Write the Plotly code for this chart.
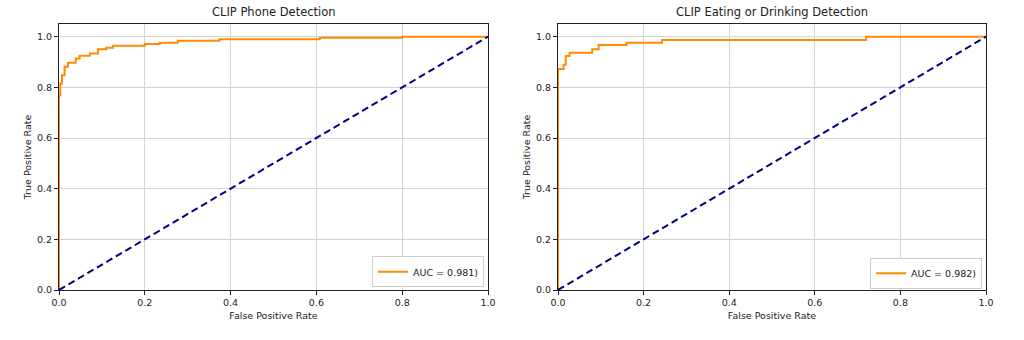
import plotly.graph_objects as go

# ---- data ----
phone_fpr = [0, 0, 0.003, 0.007, 0.013, 0.021, 0.039, 0.048, 0.072, 0.091, 0.110, 0.126,
             0.200, 0.235, 0.277, 0.374, 0.608, 0.800, 1.0]
phone_tpr = [0, 0.768, 0.815, 0.848, 0.881, 0.897, 0.914, 0.925, 0.934, 0.950, 0.956, 0.964,
             0.971, 0.976, 0.984, 0.990, 0.996, 1.0, 1.0]
phone_auc = 0.981

eat_fpr = [0, 0, 0.013, 0.018, 0.027, 0.080, 0.095, 0.160, 0.243, 0.720, 1.0]
eat_tpr = [0, 0.872, 0.889, 0.924, 0.937, 0.950, 0.967, 0.976, 0.987, 1.0, 1.0]
eat_auc = 0.982

diag = [0, 1]
titles = ["CLIP Phone Detection", "CLIP Eating or Drinking Detection"]
tick_vals = [0, 0.2, 0.4, 0.6, 0.8, 1.0]
tick_text = ["0.0", "0.2", "0.4", "0.6", "0.8", "1.0"]

FONT = "DejaVu Sans"
ORANGE = "#ff8c00"
NAVY = "#000080"

fig = go.Figure()

fig.add_trace(go.Scatter(x=phone_fpr, y=phone_tpr, mode="lines", line_shape="hv",
                         line=dict(color=ORANGE, width=2),
                         name=f"AUC = {phone_auc:.3f})", xaxis="x", yaxis="y",
                         legend="legend"))
fig.add_trace(go.Scatter(x=diag, y=diag, mode="lines",
                         line=dict(color=NAVY, width=2, dash="7px,4px"),
                         showlegend=False, xaxis="x", yaxis="y"))
fig.add_trace(go.Scatter(x=eat_fpr, y=eat_tpr, mode="lines", line_shape="hv",
                         line=dict(color=ORANGE, width=2),
                         name=f"AUC = {eat_auc:.3f})", xaxis="x2", yaxis="y2",
                         legend="legend2"))
fig.add_trace(go.Scatter(x=diag, y=diag, mode="lines",
                         line=dict(color=NAVY, width=2, dash="7px,4px"),
                         showlegend=False, xaxis="x2", yaxis="y2"))

ML, MR, MT, MB = 59, 38, 24, 50
W, H = 1024, 340
pw = W - ML - MR
left_dom = [0, (488 - ML) / pw]
right_dom = [(558 - ML) / pw, 1]

axis_common = dict(showline=True, linecolor="#222", linewidth=1, mirror=True,
                   ticks="outside", ticklen=4, tickcolor="#222",
                   showgrid=True, gridcolor="#d4d4d4", gridwidth=1,
                   zeroline=False, tickfont=dict(family=FONT, size=9.5, color="#222"),
                   tickvals=tick_vals, ticktext=tick_text)

fig.update_layout(
    width=W, height=H,
    margin=dict(l=ML, r=MR, t=MT, b=MB),
    paper_bgcolor="white", plot_bgcolor="white",
    font=dict(family=FONT, color="#222"),
    xaxis=dict(domain=left_dom, range=[0, 1], anchor="y",
               title=dict(text="False Positive Rate", font=dict(size=9.5), standoff=4),
               **axis_common),
    yaxis=dict(domain=[0, 1], range=[0, 1.05], anchor="x",
               title=dict(text="True Positive Rate", font=dict(size=9.5), standoff=3),
               **axis_common),
    xaxis2=dict(domain=right_dom, range=[0, 1], anchor="y2",
                title=dict(text="False Positive Rate", font=dict(size=9.5), standoff=4),
                **axis_common),
    yaxis2=dict(domain=[0, 1], range=[0, 1.05], anchor="x2",
                title=dict(text="True Positive Rate", font=dict(size=9.5), standoff=3),
                **axis_common),
    legend=dict(x=(484 - ML) / pw, y=0.01, xanchor="right", yanchor="bottom",
                bgcolor="white", bordercolor="#cccccc", borderwidth=1,
                font=dict(family=FONT, size=9.5, color="#222"), itemwidth=30,
                tracegroupgap=0),
    legend2=dict(x=(982 - ML) / pw, y=0.005, xanchor="right", yanchor="bottom",
                 bgcolor="white", bordercolor="#cccccc", borderwidth=1,
                 font=dict(family=FONT, size=9.5, color="#222"), itemwidth=30,
                 tracegroupgap=0),
    showlegend=True,
)

for xref, yref, t in [("x domain", "y domain", titles[0]), ("x2 domain", "y2 domain", titles[1])]:
    fig.add_annotation(text=t, xref=xref, yref=yref, x=0.5, y=1, xanchor="center",
                       yanchor="bottom", yshift=3, showarrow=False,
                       font=dict(family=FONT, size=11.5, color="#222"))

fig.write_html("out.html")
